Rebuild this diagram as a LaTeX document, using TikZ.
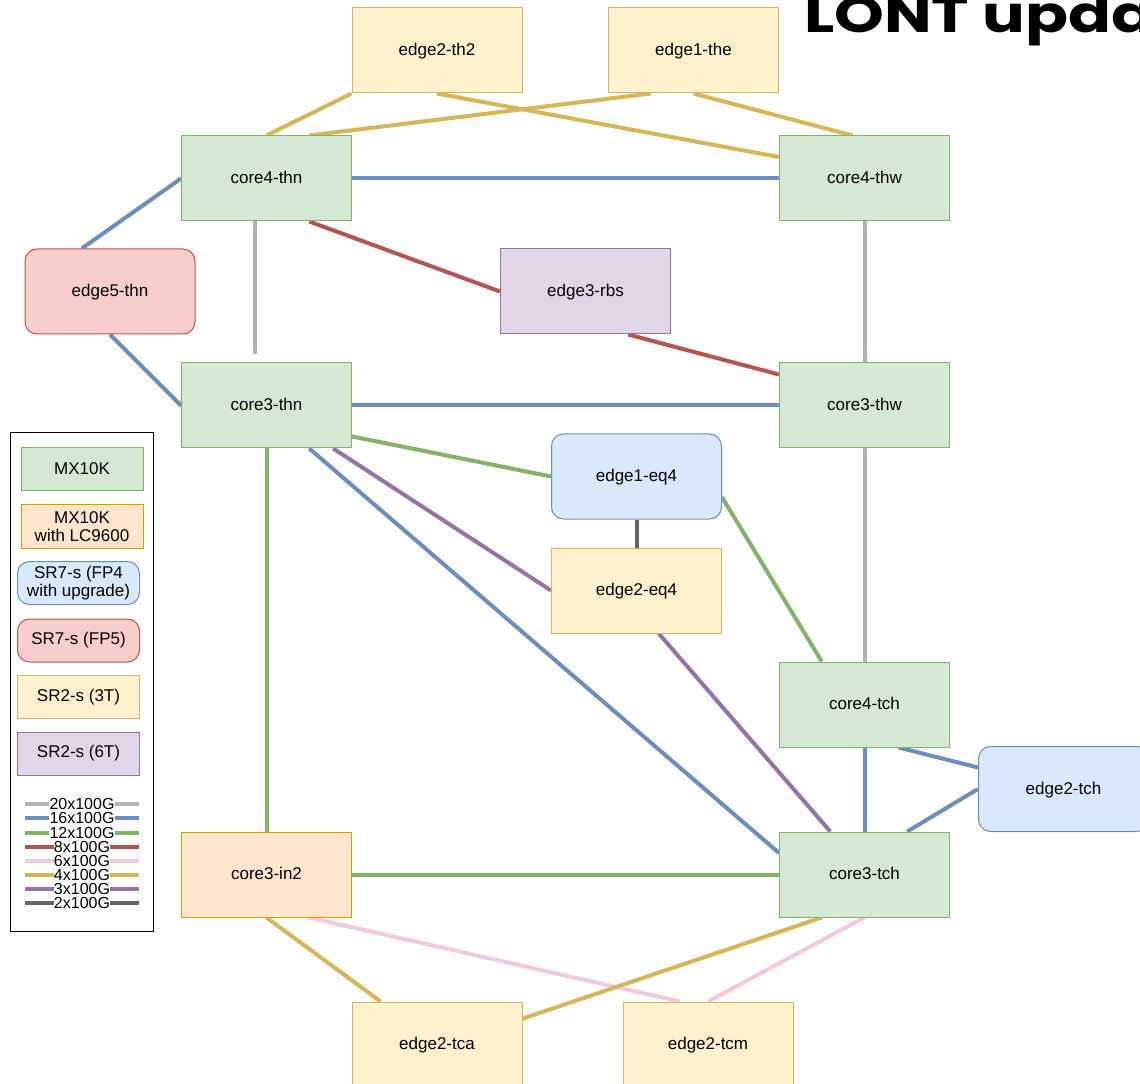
\documentclass[tikz,border=0pt]{standalone}
\usepackage{fontspec}
\setmainfont{Liberation Sans}
\newfontfamily\titlefont{Poppins}
\usetikzlibrary{calc,backgrounds}
\definecolor{gF}{HTML}{D5E8D4}\definecolor{gD}{HTML}{82B366}
\definecolor{yF}{HTML}{FFF2CC}\definecolor{yD}{HTML}{D6B656}
\definecolor{oF}{HTML}{FFE6CC}\definecolor{oD}{HTML}{D79B00}
\definecolor{bF}{HTML}{DAE8FC}\definecolor{bD}{HTML}{6C8EBF}
\definecolor{rF}{HTML}{F8CECC}\definecolor{rD}{HTML}{B85450}
\definecolor{pF}{HTML}{E1D5E7}\definecolor{pD}{HTML}{9673A6}
\definecolor{lgray}{HTML}{B3B3B3}
\definecolor{pink}{HTML}{F5C8E2}
\definecolor{dgray}{HTML}{666666}
\newcommand{\Bp}[2]{($(#1.south west)!#2!(#1.south east)$)}
\newcommand{\Tp}[2]{($(#1.north west)!#2!(#1.north east)$)}
\newcommand{\Lp}[2]{($(#1.north west)!#2!(#1.south west)$)}
\newcommand{\Rp}[2]{($(#1.north east)!#2!(#1.south east)$)}
\begin{document}
\begin{tikzpicture}[x=0.75pt,y=-0.75pt,
  box/.style={draw, line width=0.75pt, minimum width=127.5pt, minimum height=63.75pt, inner sep=0pt, text height=9.5pt, text depth=1.3pt, font=\fontsize{12.75}{15}\selectfont},
  rbox/.style={box, rounded corners=9pt},
  mx/.style={box, fill=gF, draw=gD},
  lc/.style={box, fill=oF, draw=oD},
  sr2/.style={box, fill=yF, draw=yD},
  sr6/.style={box, fill=pF, draw=pD},
  fp4/.style={rbox, fill=bF, draw=bD},
  fp5/.style={rbox, fill=rF, draw=rD},
  leg/.style={minimum width=91.5pt, minimum height=32.25pt, align=center, text height=, text depth=},
  lnk/.style={line width=3pt},
  l20/.style={lnk, draw=lgray}, l16/.style={lnk, draw=bD}, l12/.style={lnk, draw=gD},
  l8/.style={lnk, draw=rD}, l6/.style={lnk, draw=pink}, l4/.style={lnk, draw=yD},
  l3/.style={lnk, draw=pD}, l2/.style={lnk, draw=dgray},
  leglab/.style={fill=white, inner sep=0.3pt, font=\fontsize{12}{12}\selectfont}
]
\useasboundingbox (0,0) rectangle (1140,1084);
% nodes
\node[sr2] (e2th2) at (437,50.5) {edge2-th2};
\node[sr2] (e1the) at (693.5,50.5) {edge1-the};
\node[mx] (c4thn) at (266.5,178.5) {core4-thn};
\node[mx] (c4thw) at (864.5,178.5) {core4-thw};
\node[fp5] (e5thn) at (110,291.5) {edge5-thn};
\node[sr6] (e3rbs) at (585.5,291.5) {edge3-rbs};
\node[mx] (c3thn) at (266.5,405.5) {core3-thn};
\node[mx] (c3thw) at (864.5,405.5) {core3-thw};
\node[fp4] (e1eq4) at (636.5,476.5) {edge1-eq4};
\node[sr2] (e2eq4) at (636.5,590.5) {edge2-eq4};
\node[mx] (c4tch) at (864.5,704.5) {core4-tch};
\node[fp4] (e2tch) at (1063.5,789) {edge2-tch};
\node[lc] (c3in2) at (266.5,874.5) {core3-in2};
\node[mx] (c3tch) at (864.5,874.5) {core3-tch};
\node[sr2] (e2tca) at (437,1044.5) {edge2-tca};
\node[sr2] (e2tcm) at (708,1044.5) {edge2-tcm};
\coordinate (gapstart) at ($(c4thn.south west)!0.43!(c4thn.south east)$);
\coordinate (gapend) at ($(c3thn.north west)!0.43!(c3thn.north east)+(0,-8)$);
% title
\node[anchor=base west, inner sep=0pt, xscale=1.25, font=\titlefont\bfseries\fontsize{38}{40}\selectfont] (title) at (804,33) {LONT upda};
% links
\begin{scope}[on background layer]
\draw[l4] (e2th2.south west) -- (c4thn.north);
\draw[l4] (e2th2.south) -- \Lp{c4thw}{0.25};
\draw[l4] \Bp{e1the}{0.25} -- \Tp{c4thn}{0.75};
\draw[l4] (e1the.south) -- \Tp{c4thw}{0.43};
\draw[l16] (c4thn.east) -- (c4thw.west);
\draw[l16] (c4thn.west) -- \Tp{e5thn}{0.335};
\draw[l16] (e5thn.south) -- (c3thn.west);
\draw[l20] (gapstart) -- (gapend);
\draw[l8] \Bp{c4thn}{0.75} -- (e3rbs.west);
\draw[l8] \Bp{e3rbs}{0.75} -- \Lp{c3thw}{0.14};
\draw[l20] (c4thw.south) -- (c3thw.north);
\draw[l16] (c3thn.east) -- (c3thw.west);
\draw[l12] \Rp{c3thn}{0.86} -- (e1eq4.west);
\draw[l16] \Bp{c3thn}{0.75} -- \Lp{c3tch}{0.25};
\draw[l3] \Bp{c3thn}{0.89} -- (e2eq4.west);
\draw[l12] (c3thn.south) -- (c3in2.north);
\draw[l2] (e1eq4.south) -- (e2eq4.north);
\draw[l12] \Rp{e1eq4}{0.74} -- \Tp{c4tch}{0.25};
\draw[l3] \Bp{e2eq4}{0.63} -- \Tp{c3tch}{0.3};
\draw[l20] (c3thw.south) -- (c4tch.north);
\draw[l16] (c4tch.south) -- (c3tch.north);
\draw[l16] \Bp{c4tch}{0.7} -- \Lp{e2tch}{0.25};
\draw[l16] (e2tch.west) -- \Tp{c3tch}{0.75};
\draw[l12] (c3in2.east) -- (c3tch.west);
\draw[l4] (c3in2.south) -- \Tp{e2tca}{0.17};
\draw[l6] \Bp{c3in2}{0.75} -- \Tp{e2tcm}{0.335};
\draw[l4] \Bp{c3tch}{0.25} -- \Rp{e2tca}{0.2};
\draw[l6] (c3tch.south) -- (e2tcm.north);
\end{scope}
% legend
\node[draw=black, line width=0.75pt, minimum width=107.25pt, minimum height=373.5pt, inner sep=0pt] (legbox) at (81.5,682) {};
\node[mx, leg] (lg1) at (82,469) {MX10K};
\node[lc, leg] (lg2) at (82,526.5) {MX10K\\[-1pt]with LC9600};
\node[fp4, leg] (lg3) at (78.5,583) {SR7-s (FP4\\[-1pt]with upgrade)};
\node[fp5, leg] (lg4) at (78.5,640.5) {SR7-s (FP5)};
\node[sr2, leg] (lg5) at (78.5,697) {SR2-s (3T)};
\node[sr6, leg] (lg6) at (78.5,753.5) {SR2-s (6T)};
\foreach \st/\lab/\yy [count=\i] in {l20/20x100G/804, l16/16x100G/818, l12/12x100G/833, l8/8x100G/847, l6/6x100G/861, l4/4x100G/875, l3/3x100G/889, l2/2x100G/903}{
  \coordinate (la\i) at (25,\yy);
  \coordinate (lb\i) at (139,\yy);
  \draw[\st] (la\i) -- (lb\i);
  \node[leglab] (lt\i) at (82,\yy) {\lab};
}
\end{tikzpicture}
\end{document}
